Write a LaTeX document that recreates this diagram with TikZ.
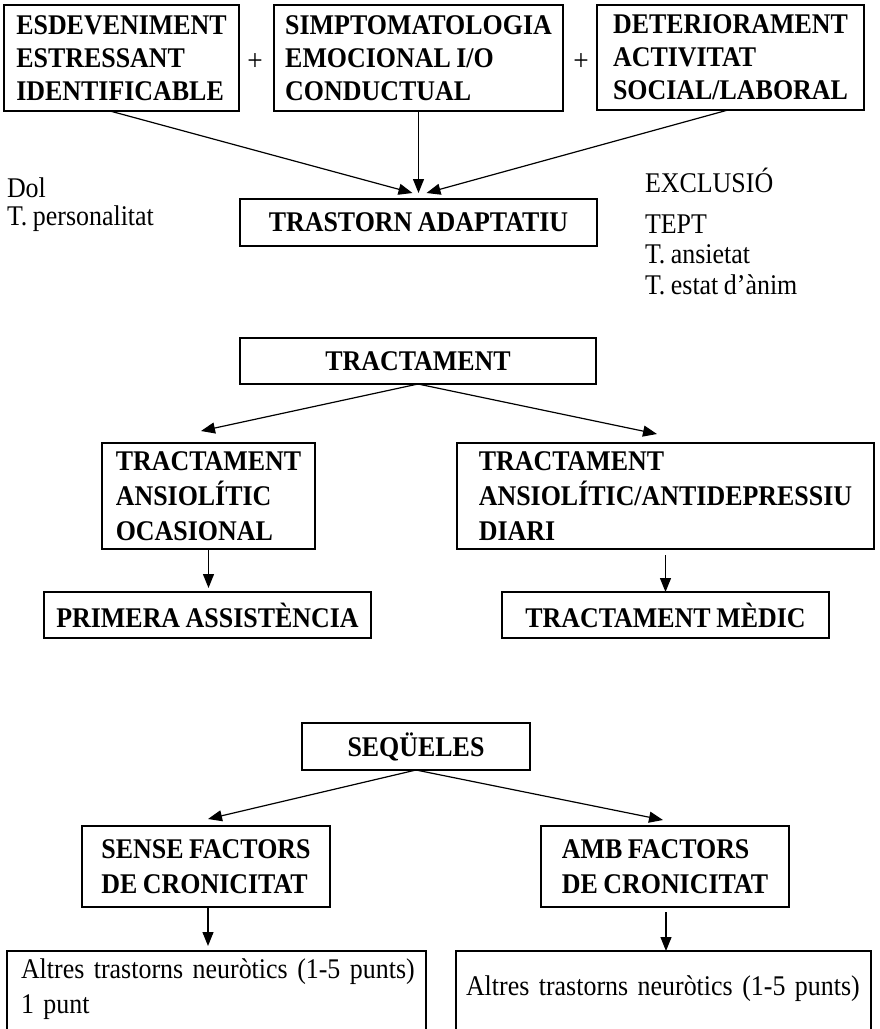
\documentclass[tikz,border=0pt]{standalone}
\usepackage{fontspec}
\setmainfont[FakeStretch=0.91,WordSpace=0.85]{Liberation Serif}
\usetikzlibrary{arrows.meta,calc}
\begin{document}
\begin{tikzpicture}[x=1pt,y=-1pt,
  every node/.style={inner sep=0pt, outer sep=0pt},
  box/.style={draw, line width=1.2pt, font=\bfseries\fontsize{28.5}{35}\selectfont},
  topbox/.style={box, font=\bfseries\fontsize{28.5}{33}\selectfont},
  textbox/.style={box, font=\fontsize{28.5}{35}\selectfont, anchor=north west, align=left},
  plain/.style={anchor=base west, font=\fontsize{28.5}{30}\selectfont},
  plus/.style={font=\fontsize{30}{30}\selectfont},
  arr/.style={line width=1.2pt, -{Triangle[length=14pt,width=11pt]}},
]
\useasboundingbox (0,0) rectangle (879,1029);
\clip (0,0) rectangle (879,1029);
\fill[white] (0,0) rectangle (879,1029);

% --- diagnosis criteria ---
\node[topbox, minimum width=235pt, minimum height=106pt, align=left] (b1) at (121.5,58)
  {ESDEVENIMENT\\ESTRESSANT\\IDENTIFICABLE};
\node[topbox, minimum width=289pt, minimum height=106pt, align=left] (b2) at (418.5,58)
  {SIMPTOMATOLOGIA\\EMOCIONAL I/O\\CONDUCTUAL};
\node[topbox, minimum width=267pt, minimum height=105pt, align=left] (b3) at (730.5,57.5)
  {DETERIORAMENT\\ACTIVITAT\\SOCIAL/LABORAL};
\node[plus] (p1) at (255,62) {+};
\node[plus] (p2) at (581,62) {+};

\node[box, minimum width=357pt, minimum height=47pt] (tr) at (418.5,222.5) {TRASTORN ADAPTATIU};

\node[plain] (dol) at (7,197) {Dol};
\node[plain] (tp) at (7,225) {T. personalitat};
\node[plain] (exc) at (645,192) {EXCLUSIÓ};
\node[plain] (tept) at (645,233) {TEPT};
\node[plain] (tan) at (645,263) {T. ansietat};
\node[plain] (tea) at (645,294) {T. estat d’ànim};

\draw[arr] ([xshift=106pt]b1.south west) -- ([xshift=-6pt,yshift=6pt]tr.north);
\draw[arr] (b2.south) -- ([yshift=6pt]tr.north);
\draw[arr] ([xshift=131pt]b3.south west) -- ([xshift=8pt,yshift=6pt]tr.north);

% --- treatment ---
\node[box, minimum width=356pt, minimum height=46pt] (tx) at (418,361) {TRACTAMENT};
\node[box, minimum width=213pt, minimum height=106pt, align=left] (lb) at (208.5,496)
  {TRACTAMENT\\ANSIOLÍTIC\\OCASIONAL};
\node[box, minimum width=417pt, minimum height=106pt, align=left] (rb) at (665.5,496)
  {TRACTAMENT\\ANSIOLÍTIC/ANTIDEPRESSIU\\DIARI};
\node[box, minimum width=327pt, minimum height=46pt] (pa) at (207.5,615) {PRIMERA ASSISTÈNCIA};
\node[box, minimum width=327pt, minimum height=46pt] (md) at (665.5,615) {TRACTAMENT MÈDIC};

\draw[arr] (tx.south) -- ([xshift=-7.5pt,yshift=12pt]lb.north);
\draw[arr] (tx.south) -- ([xshift=-8.5pt,yshift=9pt]rb.north);
\draw[arr] (lb.south) -- ([yshift=4pt]lb.south |- pa.north);
\draw[arr] ([yshift=-6pt]rb.south) -- (rb.south |- md.north);

% --- sequelae ---
\node[box, minimum width=228pt, minimum height=47pt] (sq) at (416,746.5) {SEQÜELES};
\node[box, minimum width=248pt, minimum height=81pt, align=left] (sb) at (206,866.5)
  {SENSE FACTORS\\DE CRONICITAT};
\node[box, minimum width=248pt, minimum height=81pt, align=left] (ab) at (665,866.5)
  {AMB FACTORS\\DE CRONICITAT};

\node[textbox, minimum width=419pt, text width=391pt, text height=27pt, text depth=100pt] (lo) at (7,951)
  {\mbox{Altres trastorns neuròtics (1-5 punts)}\\1 punt};
\node[textbox, minimum width=415pt, text width=395pt, text height=44pt, text depth=83pt] (ro) at (456,951)
  {\mbox{Altres trastorns neuròtics (1-5 punts)}};

\draw[arr] (sq.south) -- ([xshift=2pt,yshift=7pt]sb.north);
\draw[arr] (sq.south) -- ([xshift=-2pt,yshift=6pt]ab.north);
\draw[arr] ([xshift=2pt]sb.south) -- ([xshift=2pt,yshift=5pt]sb.south |- lo.north);
\draw[arr] ([xshift=1pt,yshift=-5pt]ab.south) -- ([xshift=1pt]ab.south |- ro.north);
\end{tikzpicture}
\end{document}
